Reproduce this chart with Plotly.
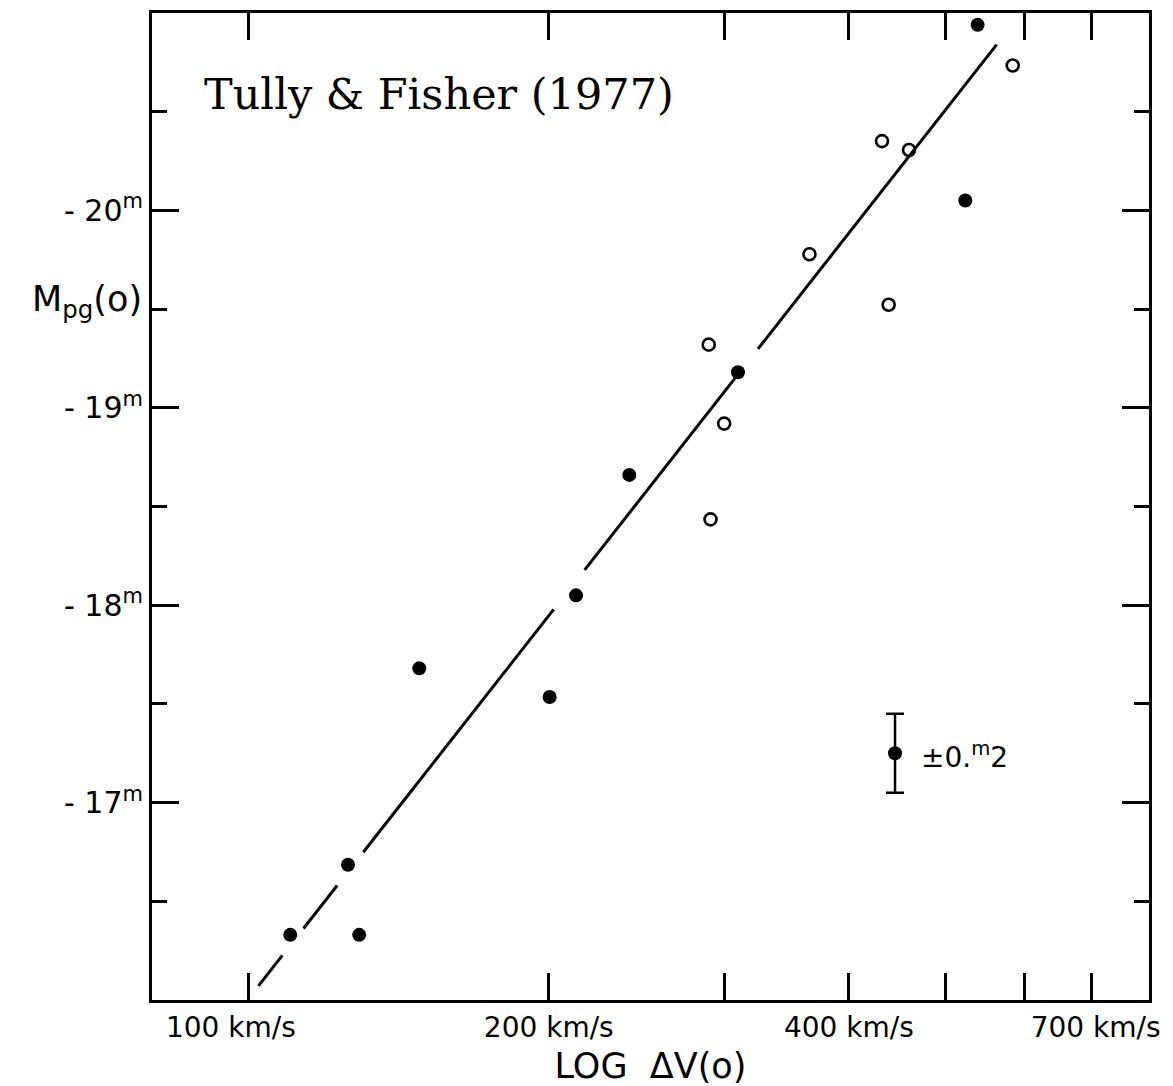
import numpy as np
import plotly.graph_objects as go

# --- data ---
filled_v = [538.5, 523.4, 309.6, 240.9, 213.0, 148.3, 200.4, 125.8, 110.1, 129.1]
filled_M = [-20.94, -20.05, -19.18, -18.66, -18.05, -17.68, -17.535, -16.685, -16.33, -16.33]

open_v = [584.0, 431.8, 459.6, 365.2, 438.5, 289.4, 299.9, 290.6]
open_M = [-20.734, -20.351, -20.306, -19.778, -19.522, -19.32, -18.92, -18.435]

err_v = [445.0]
err_M = [-17.25]
err_size = [0.2]

# fit line M = a + b*log10(v), drawn in broken segments (km/s)
fit_a = -3.128
fit_b = -6.44
fit_segments = [(102.3, 108.1), (113.5, 122.7), (130.3, 202.3), (217.3, 310.5), (324.3, 562.7)]

x_tickvals = [100, 200, 400, 700]
x_ticktext = ["100 km/s\u00a0\u00a0\u00a0\u00a0", "200 km/s", "400 km/s", "\u00a0700 km/s"]
x_minor_tickvals = [300, 500, 600]
y_tickvals = [-20, -19, -18, -17]
y_ticktext = ["- 20<sup>m</sup>", "- 19<sup>m</sup>", "- 18<sup>m</sup>", "- 17<sup>m</sup>"]

# --- build line ---
lx, ly = [], []
for v0, v1 in fit_segments:
    for v in (v0, v1):
        lx.append(v)
        ly.append(fit_a + fit_b * np.log10(v))
    lx.append(None)
    ly.append(None)

fig = go.Figure()
fig.add_trace(go.Scatter(x=lx, y=ly, mode="lines",
                         line=dict(color="black", width=3), hoverinfo="skip"))
fig.add_trace(go.Scatter(x=filled_v, y=filled_M, mode="markers",
                         marker=dict(symbol="circle", size=14, color="black")))
fig.add_trace(go.Scatter(x=open_v, y=open_M, mode="markers",
                         marker=dict(symbol="circle-open", size=12, color="black",
                                     line=dict(width=2.6, color="black"))))
fig.add_trace(go.Scatter(x=err_v, y=err_M, mode="markers",
                         marker=dict(symbol="circle", size=14, color="black"),
                         error_y=dict(type="data", array=err_size, visible=True,
                                      color="black", thickness=2.5, width=9)))

font_sans = "DejaVu Sans, sans-serif"

fig.add_annotation(x=np.log10(err_v[0]), y=err_M[0], xref="x", yref="y",
                   text="±0.<sup>m</sup>2", showarrow=False, xanchor="left",
                   xshift=24, yshift=-2,
                   font=dict(family=font_sans, size=28, color="black"))

fig.add_annotation(x=0.05, y=0.918, xref="paper", yref="paper",
                   text="Tully & Fisher (1977)", showarrow=False,
                   xanchor="left", yanchor="middle",
                   font=dict(family="DejaVu Serif, serif", size=43, color="black"))

fig.add_annotation(x=0, y=-19.54, xref="paper", yref="y",
                   text="M<sub>pg</sub>(o)", showarrow=False,
                   xanchor="right", yanchor="middle", xshift=-8,
                   font=dict(family=font_sans, size=35, color="black"))

fig.update_xaxes(type="log", range=[np.log10(80), np.log10(800)],
                 tickmode="array", tickvals=x_tickvals, ticktext=x_ticktext,
                 ticks="inside", ticklen=27, tickwidth=2.5, tickcolor="black",
                 minor=dict(tickmode="array", tickvals=x_minor_tickvals, ticks="inside",
                            ticklen=27, tickwidth=2.5, tickcolor="black", showgrid=False),
                 showline=True, linecolor="black", linewidth=3, mirror="ticks",
                 showgrid=False, zeroline=False,
                 tickfont=dict(family=font_sans, size=28, color="black"),
                 title=dict(text="LOG  ΔV(o)", standoff=14,
                            font=dict(family=font_sans, size=35, color="black")))

fig.update_yaxes(range=[-16.0, -21.0],
                 tickmode="array", tickvals=y_tickvals, ticktext=y_ticktext,
                 ticks="inside", ticklen=27, tickwidth=2.5, tickcolor="black",
                 minor=dict(tickmode="linear", tick0=-20.5, dtick=1, ticks="inside",
                            ticklen=15, tickwidth=2.5, tickcolor="black", showgrid=False),
                 showline=True, linecolor="black", linewidth=3, mirror="ticks",
                 showgrid=False, zeroline=False,
                 tickfont=dict(family=font_sans, size=30, color="black"))

fig.update_layout(width=1165, height=1078,
                  margin=dict(l=144, r=24, t=2, b=86),
                  plot_bgcolor="white", paper_bgcolor="white",
                  showlegend=False)

fig.write_html("out.html")
